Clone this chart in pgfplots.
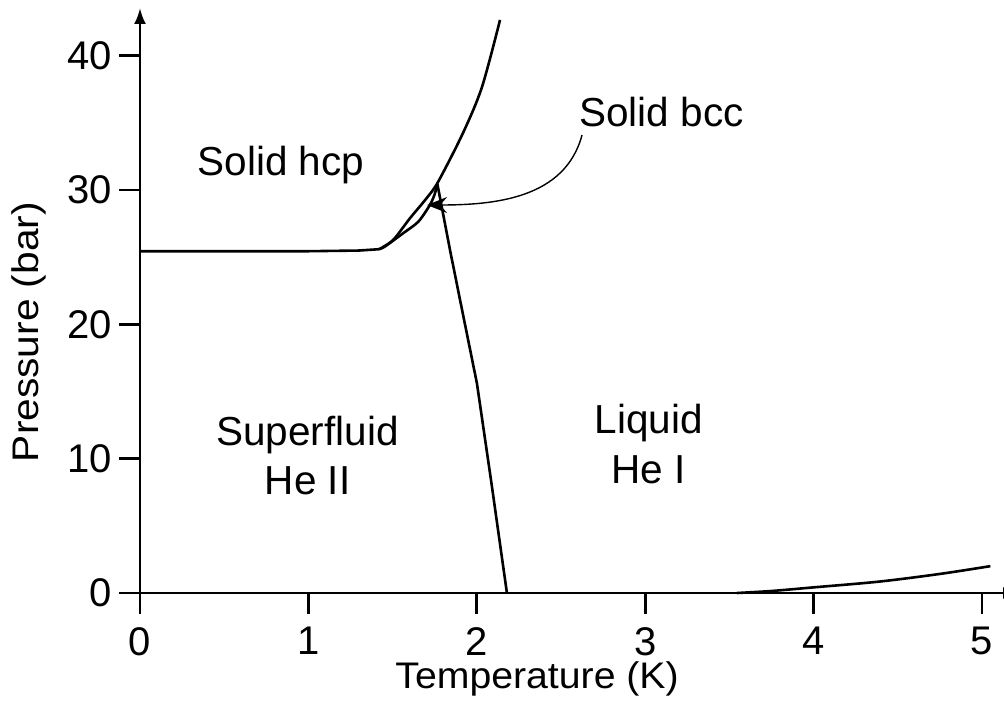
\documentclass[border=0pt]{standalone}
\usepackage{graphicx}
\usepackage{fontspec}
\setmainfont{Liberation Sans}
\usepackage{pgfplots}
\pgfplotsset{compat=1.18}
\usetikzlibrary{arrows.meta}

\begin{document}
\begin{tikzpicture}
\begin{axis}[
  at={(0,0)}, anchor=south west,
  width=439.5pt, height=292.5pt, scale only axis,
  xmin=0, xmax=5.22, ymin=0, ymax=43.56,
  axis x line=bottom, axis y line=left,
  axis line style={line width=1.35pt},
  x axis line style={-{Latex[length=8pt,width=6pt]}},
  y axis line style={-{Latex[length=8pt,width=6pt]}},
  xtick={0,1,2,3,4,5}, ytick={0,10,20,30,40},
  tick align=outside, major tick length=10.5pt,
  tick style={line width=1.35pt, black},
  ticklabel style={font=\fontsize{20}{24}\selectfont},
  xticklabel style={yshift=-3pt},
  /pgf/number format/assume math mode=true,
  xlabel={\scalebox{1.06}[1]{Temperature (K)}},
  ylabel={\scalebox{1.1}[1]{Pressure (bar)}},
  xlabel style={at={(axis description cs:0.4517,-0.164)}, anchor=base,
    font=\fontsize{18.5}{22}\selectfont},
  ylabel style={at={(axis description cs:-0.116,0.446)}, anchor=base, rotate=0,
    font=\fontsize{18.5}{22}\selectfont},
  clip=false,
]

% melting curve: flat part, then hcp boundary up to the top
\addplot[line width=1.3pt] coordinates {
  (0,25.45) (1.0,25.45) (1.30,25.5) (1.42,25.6)
};
\addplot[line width=1.3pt, smooth, tension=0.5] coordinates {
  (1.42,25.6) (1.504,26.3) (1.603,27.9) (1.702,29.4) (1.771,30.63)
  (1.918,34.25) (2.031,37.68) (2.138,42.67)
};
% bcc / He II boundary
\addplot[line width=1.3pt, smooth, tension=0.45] coordinates {
  (1.42,25.6) (1.455,25.8) (1.564,26.8) (1.653,27.65) (1.722,28.9) (1.75,29.7) (1.766,30.45)
};
% lambda line
\addplot[line width=1.3pt] coordinates {
  (2.179,0) (2.087,8.19) (2.001,15.6) (1.901,21.8) (1.841,25.54) (1.766,30.45)
};
% vapour pressure curve
\addplot[line width=1.3pt, smooth, tension=0.5] coordinates {
  (3.545,0) (3.75,0.15) (4.0,0.42) (4.39,0.85) (4.75,1.42) (5.05,2.0)
};

\draw[line width=0.7pt, -{Stealth[length=10pt,width=8pt,inset=3.5pt]}]
  (axis cs:2.625,34.1) to[out=-105,in=0] (axis cs:1.705,28.89);

\node[anchor=base, font=\fontsize{20.25}{24}\selectfont] at (axis cs:0.837,31.12) {Solid hcp};
\node[anchor=base, font=\fontsize{20.25}{24}\selectfont] at (axis cs:3.097,34.70) {Solid bcc};
\node[anchor=base, font=\fontsize{20.25}{24}\selectfont] at (axis cs:0.995,11.02) {Superfluid};
\node[anchor=base, font=\fontsize{20.25}{24}\selectfont] at (axis cs:0.995,7.30) {He II};
\node[anchor=base, font=\fontsize{20.25}{24}\selectfont] at (axis cs:3.020,11.91) {Liquid};
\node[anchor=base, font=\fontsize{20.25}{24}\selectfont] at (axis cs:3.020,8.19) {He I};
\end{axis}
\pgfresetboundingbox
\useasboundingbox (-70pt,-54.5pt) rectangle (432pt,296.5pt);
\end{tikzpicture}
\end{document}
